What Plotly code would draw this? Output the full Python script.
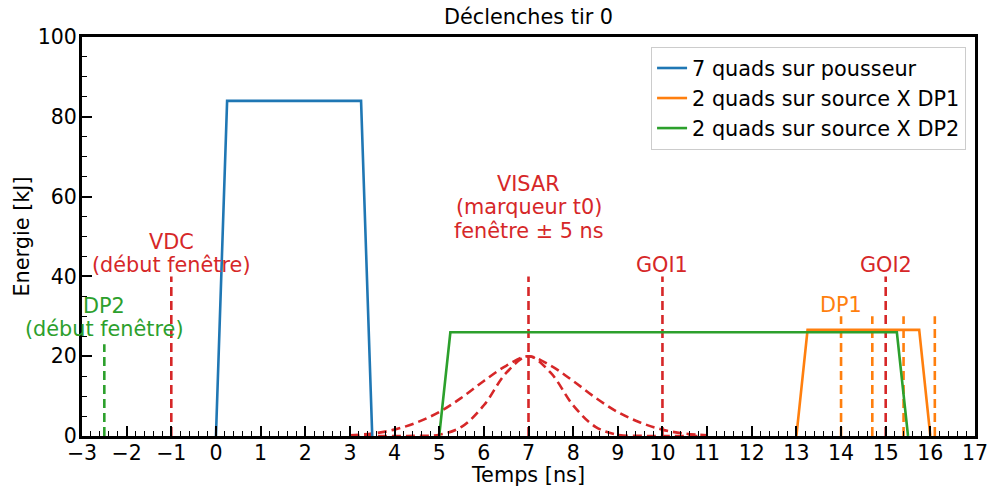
import plotly.graph_objects as go

# impulsions laser (temps en ns, energie en kJ)
pousseur_t = [0, 0.25, 3.25, 3.5]
pousseur_e = [0, 84, 84, 0]
dp1_t = [13, 13.25, 15.75, 16]
dp1_e = [0, 26.6, 26.6, 0]
dp2_t = [5, 5.25, 15.25, 15.5]
dp2_e = [0, 26, 26, 0]

# fenetres VISAR
visar_t = [3, 3.5, 4, 4.5, 5, 5.5, 6, 6.5, 7, 7.5, 8, 8.5, 9, 9.5, 10, 10.5, 11]
visar_large = [0.2, 0.6, 1.6, 3.4, 6.0, 9.6, 13.8, 17.6, 20, 17.6, 13.8, 9.6, 6.0, 3.4, 1.6, 0.6, 0.2]
visar_etroit = [0, 0, 0, 0.05, 0.3, 2.3, 7.7, 15.8, 20, 15.8, 7.7, 2.3, 0.3, 0.05, 0, 0, 0]

# marqueurs verticaux
red_marks = [-1, 7, 10, 15]
red_top = 40
dp2_mark = -2.5
dp2_top = 23
dp1_marks = [14, 14.7, 15.4, 16.1]
dp1_top = 30

BLUE, ORANGE, GREEN, RED = "#1f77b4", "#ff7f0e", "#2ca02c", "#d62728"
FONT = "DejaVu Sans"
DASH = "9px,5px"
LW = 2.6

fig = go.Figure()

# fenetres VISAR
for ys in (visar_large, visar_etroit):
    fig.add_trace(go.Scatter(x=visar_t, y=ys, mode="lines", showlegend=False,
                             line=dict(color=RED, width=LW, dash=DASH, shape="spline")))

for xv in red_marks:
    fig.add_trace(go.Scatter(x=[xv, xv], y=[0, red_top], mode="lines", showlegend=False,
                             line=dict(color=RED, width=LW, dash=DASH)))
fig.add_trace(go.Scatter(x=[dp2_mark, dp2_mark], y=[0, dp2_top], mode="lines", showlegend=False,
                         line=dict(color=GREEN, width=LW, dash=DASH)))
for xv in dp1_marks:
    fig.add_trace(go.Scatter(x=[xv, xv], y=[0, dp1_top], mode="lines", showlegend=False,
                             line=dict(color=ORANGE, width=LW, dash=DASH)))

fig.add_trace(go.Scatter(x=pousseur_t, y=pousseur_e, mode="lines", name="7 quads sur pousseur",
                         line=dict(color=BLUE, width=LW)))
fig.add_trace(go.Scatter(x=dp1_t, y=dp1_e, mode="lines", name="2 quads sur source X DP1",
                         line=dict(color=ORANGE, width=LW)))
fig.add_trace(go.Scatter(x=dp2_t, y=dp2_e, mode="lines", name="2 quads sur source X DP2",
                         line=dict(color=GREEN, width=LW)))

# textes, une ligne par annotation pour garder l'interligne de l'original
labels = [
    (7, 63.2, "VISAR", RED),
    (7, 57.3, "(marqueur t0)", RED),
    (7, 51.4, "fenêtre ± 5 ns", RED),
    (10, 42.9, "GOI1", RED),
    (15, 42.9, "GOI2", RED),
    (-1, 48.6, "VDC", RED),
    (-1, 42.9, "(début fenêtre)", RED),
    (-2.5, 32.6, "DP2", GREEN),
    (-2.5, 26.8, "(début fenêtre)", GREEN),
    (14, 32.8, "DP1", ORANGE),
]
for xv, yv, txt, col in labels:
    fig.add_annotation(x=xv, y=yv, text=txt, showarrow=False, xanchor="center", yanchor="middle",
                       font=dict(family=FONT, size=20.8, color=col))

axis_common = dict(
    showline=True, linecolor="black", linewidth=3, mirror=True,
    ticks="inside", ticklen=10, tickwidth=2, tickcolor="black",
    showgrid=False, zeroline=False, automargin=False,
    ticklabeloverflow="allow",
    tickfont=dict(family=FONT, size=20.5, color="black"),
)
fig.update_xaxes(range=[-3, 17], dtick=1, tick0=-3,
                 minor=dict(ticks="inside", ticklen=5, dtick=0.2, tickcolor="black", tickwidth=1.2),
                 title=dict(text="Temps [ns]", font=dict(family=FONT, size=20.8, color="black"), standoff=0),
                 ticklabelstandoff=-4,
                 **axis_common)
fig.update_yaxes(range=[0, 100], dtick=20,
                 minor=dict(ticks="inside", ticklen=5, dtick=5, tickcolor="black", tickwidth=1.2),
                 title=dict(text="Energie [kJ]", font=dict(family=FONT, size=20.8, color="black"), standoff=3),
                 ticklabelstandoff=-2,
                 **axis_common)

fig.update_layout(
    width=988, height=487,
    margin=dict(l=82, r=13, t=37, b=51),
    plot_bgcolor="white", paper_bgcolor="white",
    font=dict(family=FONT, color="black"),
    title=dict(text="Déclenches tir 0", x=0.5, xref="paper", xanchor="center", y=0.965, yanchor="middle",
               font=dict(family=FONT, size=20.8, color="black")),
    legend=dict(x=0.99, y=0.975, xanchor="right", yanchor="top",
                bgcolor="rgba(255,255,255,0.8)", bordercolor="#cccccc", borderwidth=1,
                font=dict(family=FONT, size=20.8, color="black")),
)

# pas de marge de page : la figure occupe toute la fenetre
fig.write_html("out.html", config={"displayModeBar": False},
               post_script="document.body.style.margin='0';")
